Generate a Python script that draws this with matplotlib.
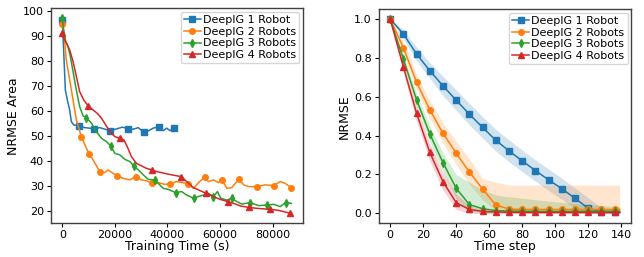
import numpy as np
import matplotlib
matplotlib.use("Agg")
import matplotlib.pyplot as plt

# ---------------- Left panel data (Training time vs NRMSE Area) ----------------
t1 = [0, 500, 1150, 1900, 2800, 3430, 4300, 6360, 8500, 10400, 12100, 14250, 16150,
      18200, 20600, 22900, 24800, 27000, 28900, 30900, 32700, 34600, 36900, 38400,
      39700, 41000, 42500, 43500]
v1 = [96.7, 84.6, 68.6, 64.6, 60.6, 55.9, 54.6, 54.2, 53.5, 53.3, 53.0, 53.5, 52.9,
      52.3, 53.0, 53.7, 53.1, 52.9, 53.5, 51.7, 52.2, 53.3, 53.9, 52.3,
      53.3, 52.3, 53.5, 53.5]
m1 = [0, 6360, 12100, 18200, 24800, 30900, 36900, 42500]

t2 = [0, 640, 1500, 2800, 4070, 5340, 7250, 8900, 10200, 11700, 13000, 14250, 16150,
      17400, 19300, 20850, 23150, 25700, 28000, 30100, 32000, 34200, 36500, 39000,
      41000, 43500, 45800, 47700, 49900, 52200, 54300, 55600, 57500, 59400, 60700,
      62600, 64500, 66400, 67400, 69000, 70900, 74000, 77200, 80400, 82900, 84800, 87100]
v2 = [95.0, 91.3, 80.6, 72.6, 64.6, 56.6, 49.9, 45.9, 43.0, 40.6, 38.2, 35.9, 35.5,
      36.6, 35.2, 34.3, 33.2, 32.6, 33.9, 32.6, 32.2, 31.2, 31.5, 30.8,
      31.0, 31.9, 31.5, 31.0, 29.2, 31.9, 33.6, 31.9, 32.6, 31.5, 32.6,
      29.2, 29.5, 31.9, 32.8, 30.6, 29.9, 29.9, 30.6, 30.3, 31.9, 31.2, 29.5]
m2 = [0, 7250, 10200, 14250, 20850, 28000, 34200, 41000, 47700, 54300, 60700,
      67400, 74000, 80400, 87100]

t3 = [0, 500, 1270, 2160, 3050, 4070, 5090, 6600, 7900, 9150, 11070, 13000, 14900,
      16800, 18400, 20000, 21900, 23800, 25700, 27200, 28900, 30800, 32700, 34600,
      35200, 36500, 38400, 40300, 43100, 45400, 47300, 50100, 52200, 53900, 55600,
      57500, 59000, 60300, 62600, 64500, 66400, 68300, 71500, 74700, 77800, 80400,
      82900, 85100, 87100]
v3 = [97.3, 92.7, 88.0, 86.0, 82.0, 76.0, 69.9, 61.9, 58.2, 57.5, 55.3, 51.9, 49.2,
      47.9, 46.2, 43.2, 42.6, 40.8, 39.9, 38.2, 36.6, 34.6, 32.8, 32.6,
      32.4, 31.2, 29.2, 28.8, 27.5, 27.9, 26.5, 25.2, 26.1, 26.5, 27.2,
      25.9, 27.9, 25.2, 24.5, 25.2, 23.9, 22.9, 23.5, 22.3, 22.5, 22.8,
      21.9, 23.5, 23.2]
m3 = [0, 9150, 18400, 27200, 35200, 43100, 50100, 57500, 64500, 71500, 77800, 85100]

t4 = [0, 500, 1500, 2800, 4070, 5340, 6600, 8140, 9800, 11700, 13230, 14900, 16500,
      18100, 20000, 21900, 23400, 24700, 26300, 28200, 30100, 32000, 34000, 35900,
      37800, 39700, 41600, 45200, 47300, 49900, 52400, 54700, 57500, 60000, 63000,
      65100, 67900, 70900, 74000, 78900, 81700, 84200, 86700]
v4 = [91.3, 89.3, 87.6, 84.6, 80.0, 74.0, 67.9, 64.6, 62.2, 60.6, 59.3, 57.3, 54.6,
      51.9, 49.9, 49.2, 48.6, 45.9, 41.9, 39.2, 38.2, 37.2, 36.6, 35.9,
      35.5, 35.0, 34.6, 33.9, 31.9, 29.5, 28.3, 27.2, 25.9, 24.8, 23.9,
      23.2, 22.1, 21.6, 21.2, 20.8, 20.5, 19.9, 19.2]
m4 = [0, 9800, 21900, 34000, 45200, 54700, 63000, 70900, 78900, 86700]

# ---------------- Right panel data (Time step vs NRMSE) ----------------
steps = [0, 8, 16, 24, 32, 40, 48, 56, 64, 72, 80, 88, 96, 104, 112, 120, 128, 136, 139]
r1 = [1.0, 0.923, 0.82, 0.734, 0.656, 0.582, 0.51, 0.442, 0.376, 0.321, 0.27, 0.22,
      0.172, 0.127, 0.077, 0.026, 0.007, 0.005, 0.005]
r1_lo = [1.0, 0.90, 0.785, 0.695, 0.605, 0.53, 0.455, 0.387, 0.32, 0.265, 0.215, 0.165,
         0.117, 0.072, 0.025, 0.0, 0.0, 0.0, 0.0]
r1_hi = [1.0, 0.945, 0.855, 0.775, 0.705, 0.635, 0.565, 0.498, 0.432, 0.378, 0.325, 0.275,
         0.228, 0.18, 0.13, 0.08, 0.03, 0.015, 0.015]
r2 = [1.0, 0.852, 0.675, 0.533, 0.412, 0.309, 0.213, 0.125, 0.043, 0.022, 0.02, 0.02,
      0.02, 0.02, 0.02, 0.02, 0.02, 0.02, 0.02]
r2_lo = [1.0, 0.82, 0.635, 0.49, 0.36, 0.25, 0.15, 0.07, 0.015, 0.0, 0.0, 0.0,
         0.0, 0.0, 0.0, 0.0, 0.0, 0.0, 0.0]
r2_hi = [1.0, 0.885, 0.715, 0.58, 0.465, 0.37, 0.28, 0.18, 0.16, 0.145, 0.145, 0.145,
         0.145, 0.145, 0.145, 0.145, 0.145, 0.145, 0.145]
r3 = [1.0, 0.795, 0.584, 0.409, 0.261, 0.129, 0.045, 0.024, 0.014, 0.012, 0.011, 0.01,
      0.01, 0.01, 0.01, 0.01, 0.01, 0.01, 0.01]
r3_lo = [1.0, 0.775, 0.555, 0.37, 0.215, 0.075, 0.01, 0.0, 0.0, 0.0, 0.0, 0.0,
         0.0, 0.0, 0.0, 0.0, 0.0, 0.0, 0.0]
r3_hi = [1.0, 0.815, 0.615, 0.45, 0.31, 0.2, 0.16, 0.12, 0.095, 0.085, 0.078, 0.07,
         0.063, 0.057, 0.05, 0.045, 0.04, 0.036, 0.034]
r4 = [1.0, 0.754, 0.515, 0.314, 0.163, 0.055, 0.02, 0.01, 0.007, 0.006, 0.005, 0.005,
      0.005, 0.005, 0.005, 0.005, 0.005, 0.005, 0.005]
r4_lo = [1.0, 0.725, 0.475, 0.27, 0.12, 0.02, 0.0, 0.0, 0.0, 0.0, 0.0, 0.0,
         0.0, 0.0, 0.0, 0.0, 0.0, 0.0, 0.0]
r4_hi = [1.0, 0.785, 0.555, 0.36, 0.21, 0.1, 0.04, 0.02, 0.015, 0.012, 0.01, 0.01,
         0.01, 0.01, 0.01, 0.01, 0.01, 0.01, 0.01]

labels = ["DeepIG 1 Robot", "DeepIG 2 Robots", "DeepIG 3 Robots", "DeepIG 4 Robots"]
colors = ["#1f77b4", "#ff7f0e", "#2ca02c", "#d62728"]
markers = ["s", "o", "d", "^"]

plt.rcParams['font.family'] = ['DejaVu Sans']
fig = plt.figure(figsize=(6.44, 2.57), dpi=100)
ax1 = fig.add_axes([0.079, 0.132, 0.391, 0.835])
ax2 = fig.add_axes([0.588, 0.132, 0.392, 0.832])


def idx_of(ts, ms):
    ts = np.asarray(ts)
    return [int(np.argmin(np.abs(ts - m))) for m in ms]


left = [(t1, v1, m1), (t2, v2, m2), (t3, v3, m3), (t4, v4, m4)]
for (t, v, m), c, mk, lab in zip(left, colors, markers, labels):
    ax1.plot(t, v, color=c, marker=mk, markersize=4, lw=1.1,
             markevery=idx_of(t, m), label=lab)

right = [(r1, r1_lo, r1_hi), (r2, r2_lo, r2_hi), (r3, r3_lo, r3_hi), (r4, r4_lo, r4_hi)]
mark_idx = list(range(0, len(steps) - 1))
for (v, lo, hi), c, mk, lab in zip(right, colors, markers, labels):
    ax2.fill_between(steps, lo, hi, color=c, alpha=0.2, lw=0)
    ax2.plot(steps, v, color=c, marker=mk, markersize=4, lw=1.1,
             markevery=mark_idx, label=lab)

ax1.set_xticks([0, 20000, 40000, 60000, 80000])
ax1.set_yticks([20, 30, 40, 50, 60, 70, 80, 90, 100])
ax1.set_xlabel("Training Time (s)", fontsize=9, labelpad=0)
ax1.set_ylabel("NRMSE Area", fontsize=9, labelpad=2)

ax2.set_xticks([0, 20, 40, 60, 80, 100, 120, 140])
ax2.set_yticks([0.0, 0.2, 0.4, 0.6, 0.8, 1.0])
ax2.set_yticklabels(["0.0", "0.2", "0.4", "0.6", "0.8", "1.0"])
ax2.set_xlabel("Time step", fontsize=9, labelpad=0)
ax2.set_ylabel("NRMSE", fontsize=9, labelpad=2)

for ax in (ax1, ax2):
    ax.tick_params(labelsize=8, length=3, width=0.8, pad=2)
    for s in ax.spines.values():
        s.set_color("0.25")
        s.set_linewidth(1.0)
    ax.legend(loc="upper right", fontsize=8, labelspacing=0.15, handlelength=1.5,
              handletextpad=0.2, borderpad=0.3, borderaxespad=0.3, fancybox=True)

fig.savefig("out.png", dpi=100)
